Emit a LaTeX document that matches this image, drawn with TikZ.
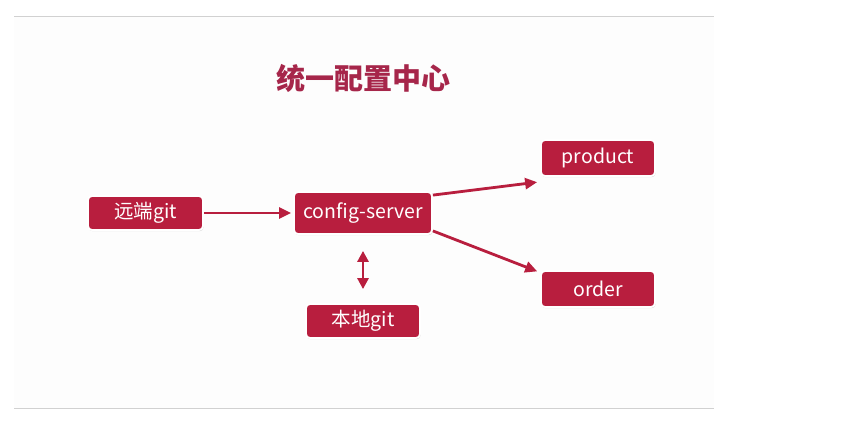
\documentclass[tikz,border=0pt]{standalone}
\usepackage{fontspec}
\setmainfont{Noto Sans CJK SC}
\usetikzlibrary{shadows,arrows.meta}
\definecolor{boxred}{RGB}{184,30,62}
\definecolor{titlered}{RGB}{166,38,74}
\tikzset{
  box/.style={rectangle, rounded corners=4pt, fill=boxred, draw=white, line width=1.8pt,
    text=white, font=\fontsize{19.5}{22}\selectfont, inner sep=0pt,
    drop shadow={shadow xshift=0.6pt, shadow yshift=-1.2pt, opacity=0.3, fill=black!50}},
  link/.style={-{Triangle[length=12pt,width=11pt]}, line width=2.8pt, boxred, shorten >=2pt}
}
\begin{document}
\begin{tikzpicture}[x=1pt, y=-1pt]
    \useasboundingbox (0,0) rectangle (841,434);
    % Slide
    \fill[white] (0,0) rectangle (841,434);
    \fill[black!0.8] (14,16) rectangle (714,408);
    \draw[black!18, line width=0.8pt] (14,16) -- (714,16);
    \draw[black!18, line width=0.8pt] (14,408) -- (714,408);

    % Title
    \node (title) [text=titlered, font=\fontsize{29}{32}\selectfont\bfseries] at (363,78) {统一配置中心};

    % Boxes
    \node (remote) [box, minimum width=115pt, minimum height=34pt] at (145.5,213) {远端git};
    \node (server) [box, minimum width=138pt, minimum height=42pt] at (363,213) {config-server};
    \node (product) [box, minimum width=114pt, minimum height=36pt] at (598,158) {product};
    \node (order) [box, minimum width=114pt, minimum height=36pt] at (598,289) {order};
    \node (local) [box, minimum width=114pt, minimum height=34pt] at (363,321) {本地git};

    % Arrows
    \draw[link] (remote.east) -- (server.west);
    \draw[link] ([yshift=-4pt]server.north east) -- ([xshift=-1pt,yshift=-5pt]product.south west);
    \draw[link] ([yshift=4pt]server.south east) -- ([xshift=-1pt,yshift=-2pt]order.north west);
    \draw[link, {Triangle[length=11pt,width=11pt]}-{Triangle[length=11pt,width=11pt]}, shorten <=16pt, shorten >=14pt] (server.south) -- (local.north);
\end{tikzpicture}
\end{document}
